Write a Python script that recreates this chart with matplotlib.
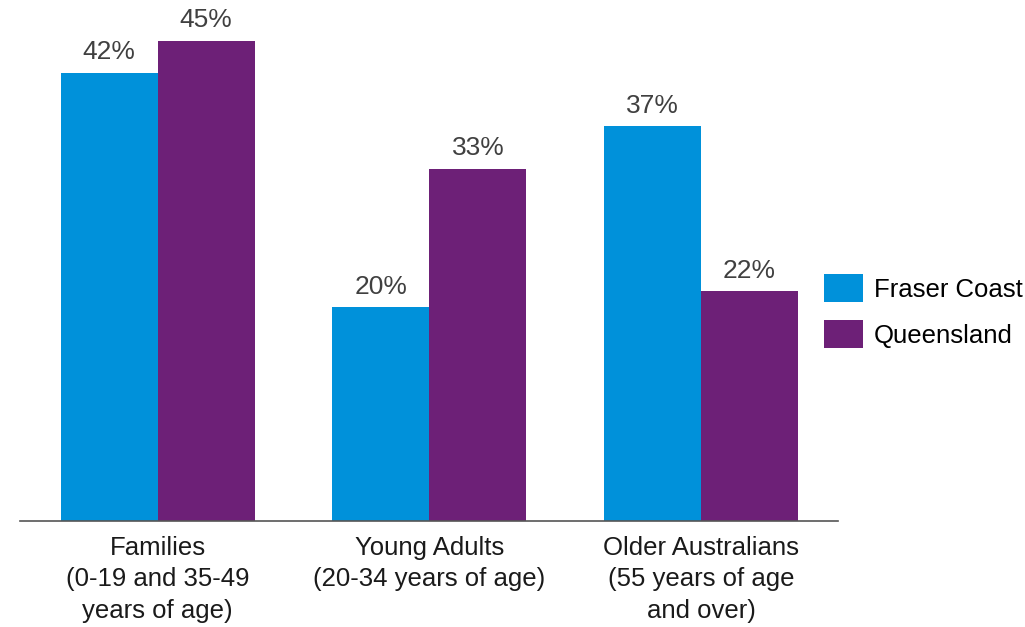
import matplotlib.pyplot as plt
import numpy as np

# values
categories = ['Families\n(0-19 and 35-49\nyears of age)',
              'Young Adults\n(20-34 years of age)',
              'Older Australians\n(55 years of age\nand over)']
fraser_coast = [42, 20, 37]
queensland = [45, 33, 21.5]
fraser_labels = ['42%', '20%', '37%']
queensland_labels = ['45%', '33%', '22%']
series_names = ['Fraser Coast', 'Queensland']

plt.rcParams['font.family'] = ['Liberation Sans', 'DejaVu Sans']

fig = plt.figure(figsize=(10.25, 6.27), dpi=100)
ax = fig.add_axes([20/1025, 106/627, 818/1025, 521/627])

x = np.arange(len(categories))
w = 0.357
b1 = ax.bar(x - w/2, fraser_coast, w, color='#0091DA', label=series_names[0])
b2 = ax.bar(x + w/2, queensland, w, color='#6D2077', label=series_names[1])

# value labels above the bars
ax.bar_label(b1, labels=fraser_labels, padding=6, fontsize=19, color='#404040')
ax.bar_label(b2, labels=queensland_labels, padding=6, fontsize=19, color='#404040')

ax.set_xlim(-0.507, 2.504)
ax.set_ylim(0, 48.8)
ax.set_yticks([])
ax.set_xticks(x)
ax.set_xticklabels(categories, fontsize=18.5, color='#1a1a1a', linespacing=1.38)
ax.tick_params(axis='x', length=0, pad=11)

for s in ['top', 'right', 'left']:
    ax.spines[s].set_visible(False)
ax.spines['bottom'].set_color('#555555')
ax.spines['bottom'].set_linewidth(1.2)

ax.legend(loc='center left', bbox_to_anchor=(794/818, (627-311-106)/521),
          frameon=False, fontsize=18.5, handlelength=1.5, handleheight=1.3,
          handletextpad=0.42, labelspacing=0.7, borderaxespad=0)

fig.savefig('out.png', dpi=100)
